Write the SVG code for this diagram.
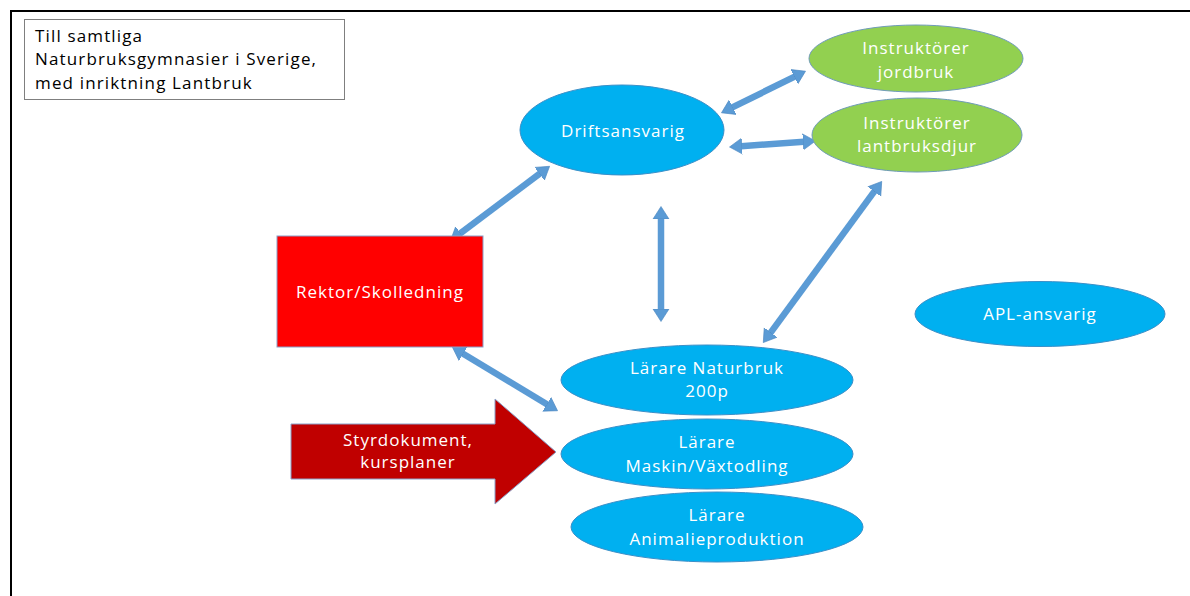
<svg xmlns="http://www.w3.org/2000/svg" width="1190" height="596" viewBox="0 0 1190 596">
<style>
.t{font-family:"Open Sans","Liberation Sans",sans-serif;font-size:17px;fill:#fff;text-anchor:middle;letter-spacing:1px}
.b{font-family:"Open Sans","Liberation Sans",sans-serif;font-size:17px;fill:#000;letter-spacing:1.15px}
.blue{fill:#00B0F0;stroke:#3a8fc8;stroke-width:1}
.green{fill:#92D050;stroke:#6f9bb8;stroke-width:1}
.con{stroke:#5B9BD5;stroke-width:6.5;fill:none;marker-start:url(#ah);marker-end:url(#ah)}
</style>
<defs>
<marker id="ah" markerUnits="userSpaceOnUse" viewBox="0 -9 14 18" markerWidth="14" markerHeight="18" refX="1" refY="0" orient="auto-start-reverse">
<path d="M0,-8 L12.5,0 L0,8 z" fill="#5B9BD5" stroke="#4a86c0" stroke-width="0.6"/>
</marker>
</defs>
<rect width="1190" height="596" fill="#fff"/>
<path d="M11,596 V11 H1190" fill="none" stroke="#000" stroke-width="2"/>

<g id="note">
<rect x="24.5" y="19.5" width="320" height="80" fill="#fff" stroke="#7f7f7f" stroke-width="1"/>
<text class="b" x="35" y="42">Till samtliga</text>
<text class="b" x="35" y="65">Naturbruksgymnasier i Sverige,</text>
<text class="b" x="35" y="89">med inriktning Lantbruk</text>
</g>

<g id="connectors">
<line class="con" x1="731.8" y1="107.7" x2="795.2" y2="76.3"/>
<line class="con" x1="741" y1="146.2" x2="804" y2="141.8"/>
<line class="con" x1="540.4" y1="173.2" x2="459.6" y2="233.8"/>
<line class="con" x1="462.3" y1="353.2" x2="547.7" y2="404.8"/>
<line class="con" x1="661" y1="218" x2="661" y2="310"/>
<line class="con" x1="874.9" y1="190.7" x2="770.1" y2="333.3"/>
</g>

<g id="driftsansvarig">
<ellipse class="blue" cx="622" cy="130" rx="102" ry="45"/>
<text class="t" x="623" y="137">Driftsansvarig</text>
</g>

<g id="instruktorer-jordbruk">
<ellipse class="green" cx="916" cy="58.5" rx="107" ry="33.5"/>
<text class="t" x="916" y="54">Instruktörer</text>
<text class="t" x="916" y="78">jordbruk</text>
</g>

<g id="instruktorer-lantbruksdjur">
<ellipse class="green" cx="917" cy="135" rx="105" ry="37"/>
<text class="t" x="917" y="129">Instruktörer</text>
<text class="t" x="917" y="152">lantbruksdjur</text>
</g>

<g id="rektor">
<rect x="277" y="236" width="206" height="111" fill="#FF0000" stroke="#8aa0c8" stroke-width="1"/>
<text class="t" x="380" y="298">Rektor/Skolledning</text>
</g>

<g id="apl">
<ellipse class="blue" cx="1040" cy="314" rx="125" ry="32.5"/>
<text class="t" x="1040" y="320">APL-ansvarig</text>
</g>

<g id="larare-naturbruk">
<ellipse class="blue" cx="707" cy="380" rx="146" ry="35"/>
<text class="t" x="707" y="374">Lärare Naturbruk</text>
<text class="t" x="707" y="397">200p</text>
</g>

<g id="larare-maskin">
<ellipse class="blue" cx="707" cy="454" rx="146" ry="35"/>
<text class="t" x="707" y="448">Lärare</text>
<text class="t" x="707" y="472">Maskin/Växtodling</text>
</g>

<g id="larare-animalie">
<ellipse class="blue" cx="717" cy="527" rx="146" ry="35"/>
<text class="t" x="717" y="521">Lärare</text>
<text class="t" x="717" y="545">Animalieproduktion</text>
</g>

<g id="styrdokument">
<polygon points="291,424 495,424 495,399 556,452 495,504 495,479 291,479" fill="#C00000" stroke="#8aa0c8" stroke-width="1"/>
<text class="t" x="408" y="446">Styrdokument,</text>
<text class="t" x="408" y="468">kursplaner</text>
</g>
</svg>
